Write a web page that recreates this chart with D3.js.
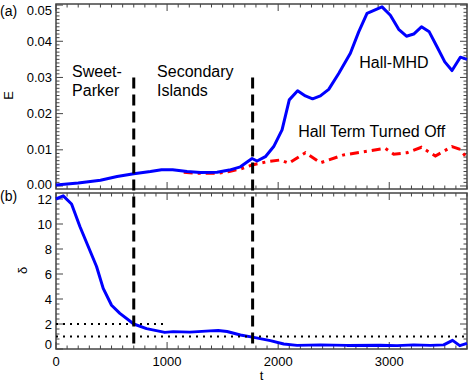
<!DOCTYPE html>
<html>
<head>
<meta charset="utf-8">
<script src="https://cdn.jsdelivr.net/npm/d3@7"></script>
<style>
  body { margin: 0; background: #fff; }
  text { font-family: "Liberation Sans", Arial, sans-serif; fill: #000; }
  .tick-label { font-size: 13px; }
  .note { font-size: 16px; }
</style>
</head>
<body>
<svg id="chart" width="471" height="382"></svg>
<script>
// values
var hallT = [0, 200, 400, 550, 700, 850, 950, 1050, 1180, 1300, 1450, 1560, 1660, 1765, 1810, 1885, 1960, 2035, 2100, 2175, 2245, 2310, 2380, 2455, 2545, 2650, 2725, 2800, 2935, 3010, 3085, 3155, 3220, 3290, 3360, 3430, 3500, 3565, 3640, 3700];
var hallE = [0.0003, 0.0008, 0.0016, 0.0026, 0.0034, 0.0040, 0.0045, 0.0045, 0.0040, 0.0037, 0.0038, 0.0044, 0.0053, 0.0076, 0.0069, 0.0081, 0.0109, 0.0155, 0.0238, 0.0263, 0.0249, 0.0241, 0.0249, 0.0267, 0.0311, 0.0367, 0.0426, 0.0477, 0.0495, 0.0472, 0.0433, 0.0414, 0.0420, 0.0440, 0.0426, 0.0385, 0.0343, 0.0319, 0.0356, 0.0350];

var noHallT = [1150, 1250, 1350, 1450, 1560, 1660, 1765, 1900, 2020, 2095, 2245, 2380, 2590, 2965, 3040, 3160, 3290, 3415, 3565, 3640, 3700];
var noHallE = [0.0038, 0.0035, 0.0035, 0.0035, 0.0040, 0.0047, 0.0058, 0.0067, 0.0072, 0.0063, 0.0092, 0.0064, 0.0086, 0.0104, 0.0088, 0.0092, 0.0107, 0.0083, 0.0109, 0.0101, 0.0077];

var deltaT = [0, 65, 140, 215, 290, 365, 425, 500, 575, 700, 815, 980, 1055, 1205, 1385, 1460, 1540, 1660, 1780, 1930, 2050, 2170, 2380, 2620, 2920, 3070, 3220, 3370, 3490, 3570, 3635, 3700];
var delta = [12.0, 12.25, 11.6, 9.8, 8.2, 6.6, 4.85, 3.5, 2.85, 2.0, 1.63, 1.33, 1.39, 1.35, 1.45, 1.48, 1.4, 1.12, 0.93, 0.67, 0.4, 0.29, 0.33, 0.29, 0.3, 0.27, 0.33, 0.29, 0.33, 0.69, 0.27, 0.45];

var phaseT = [700, 1770];
var dashTopE = 0.03;
var guideDelta = [2, 1];
var guideEnd = [1000, 3700];

var xTicks = [0, 1000, 2000, 3000];
var eTicks = [0.00, 0.01, 0.02, 0.03, 0.04, 0.05];
var dTicks = [0, 2, 4, 6, 8, 10, 12];

var svg = d3.select("#chart"),
    left = 56, right = 467,
    topA = 4, botA = 189,
    topB = 193, botB = 349;

var x = d3.scaleLinear().domain([0, 3700]).range([left, right]);
var yA = d3.scaleLinear().domain([-0.00083, 0.0503]).range([botA, topA]);
var yB = d3.scaleLinear().domain([0, 12.48]).range([botB, topB]);

var axisColor = "#444";

function frame(y, yTickVals, yMinor, fmt, showX) {
    var y0 = y.range()[0], y1 = y.range()[1];
    var g = svg.append("g");
    g.append("rect")
        .attr("x", left).attr("y", y1)
        .attr("width", right - left).attr("height", y0 - y1)
        .attr("fill", "none").attr("stroke", axisColor).attr("stroke-width", 1.5);

    // x ticks, inward on bottom and top
    d3.range(0, 3701, 100).forEach(function(t) {
        var len = t % 1000 === 0 ? 7 : 3.5;
        g.append("line").attr("x1", x(t)).attr("x2", x(t)).attr("y1", y0).attr("y2", y0 - len)
            .attr("stroke", axisColor);
        g.append("line").attr("x1", x(t)).attr("x2", x(t)).attr("y1", y1).attr("y2", y1 + len)
            .attr("stroke", axisColor);
    });

    // y ticks, inward on left and right
    yMinor.forEach(function(v) {
        var major = yTickVals.some(function(m) { return Math.abs(m - v) < 1e-9; });
        var len = major ? 7 : 3.5;
        g.append("line").attr("x1", left).attr("x2", left + len).attr("y1", y(v)).attr("y2", y(v))
            .attr("stroke", axisColor);
        g.append("line").attr("x1", right).attr("x2", right - len).attr("y1", y(v)).attr("y2", y(v))
            .attr("stroke", axisColor);
    });

    // labels kept inside the frame's height, as in the original
    yTickVals.forEach(function(v) {
        var ly = Math.max(y1 + 6, Math.min(y0 - 5, y(v)));
        g.append("text").attr("class", "tick-label")
            .attr("x", left - 4).attr("y", ly).attr("dy", "0.35em")
            .attr("text-anchor", "end")
            .text(fmt(v));
    });

    if (showX) {
        xTicks.forEach(function(t) {
            g.append("text").attr("class", "tick-label")
                .attr("x", x(t)).attr("y", y0 + 17)
                .attr("text-anchor", "middle")
                .text(t);
        });
    }
}

frame(yA, eTicks, d3.range(0, 51).map(function(i) { return i / 1000; }), d3.format(".2f"), false);
frame(yB, dTicks, d3.range(0, 31).map(function(i) { return i * 0.4; }), d3.format("d"), true);

// panel (a) curves
var lineA = d3.line()
    .x(function(d) { return x(d[0]); })
    .y(function(d) { return yA(d[1]); });

svg.append("path")
    .datum(d3.zip(noHallT, noHallE))
    .attr("fill", "none").attr("stroke", "#ff0000").attr("stroke-width", 3)
    .attr("stroke-dasharray", "9,5,3,5")
    .attr("d", lineA);

svg.append("path")
    .datum(d3.zip(hallT, hallE))
    .attr("fill", "none").attr("stroke", "#0000ff").attr("stroke-width", 3)
    .attr("stroke-linejoin", "round")
    .attr("d", lineA);

// panel (b) curve
var lineB = d3.line()
    .x(function(d) { return x(d[0]); })
    .y(function(d) { return yB(d[1]); });

svg.append("path")
    .datum(d3.zip(deltaT, delta))
    .attr("fill", "none").attr("stroke", "#0000ff").attr("stroke-width", 3)
    .attr("stroke-linejoin", "round")
    .attr("d", lineB);

// dotted guides
guideDelta.forEach(function(v, i) {
    svg.append("line")
        .attr("x1", x(0)).attr("x2", x(guideEnd[i]))
        .attr("y1", yB(v)).attr("y2", yB(v))
        .attr("stroke", "#000").attr("stroke-width", 2)
        .attr("stroke-dasharray", "2,5");
});

// phase boundaries, crossing both panels
phaseT.forEach(function(t) {
    svg.append("line")
        .attr("x1", x(t)).attr("x2", x(t))
        .attr("y1", yA(dashTopE)).attr("y2", yB(0))
        .attr("stroke", "#000").attr("stroke-width", 3)
        .attr("stroke-dasharray", "11,6");
});

// annotations
function note(t, e, str) {
    svg.append("text").attr("class", "note")
        .attr("x", x(t)).attr("y", yA(e)).text(str);
}
note(145, 0.0300, "Sweet-");
note(145, 0.0250, "Parker");
note(910, 0.0300, "Secondary");
note(910, 0.0250, "Islands");
note(2730, 0.0325, "Hall-MHD");
note(2180, 0.0135, "Hall Term Turned Off");

svg.append("text").attr("x", 0).attr("y", 16).style("font-size", "14px").text("(a)");
svg.append("text").attr("x", 0).attr("y", 201).style("font-size", "14px").text("(b)");

svg.append("text").attr("class", "tick-label")
    .attr("transform", "translate(13," + yA(0.025) + ") rotate(-90)")
    .attr("text-anchor", "middle").text("E");
svg.append("text").attr("class", "tick-label")
    .attr("transform", "translate(27," + yB(6.3) + ") rotate(-90)")
    .attr("text-anchor", "middle").text("δ");
svg.append("text").attr("class", "tick-label")
    .attr("x", x(1850)).attr("y", 380)
    .attr("text-anchor", "middle").text("t");
</script>
</body>
</html>
